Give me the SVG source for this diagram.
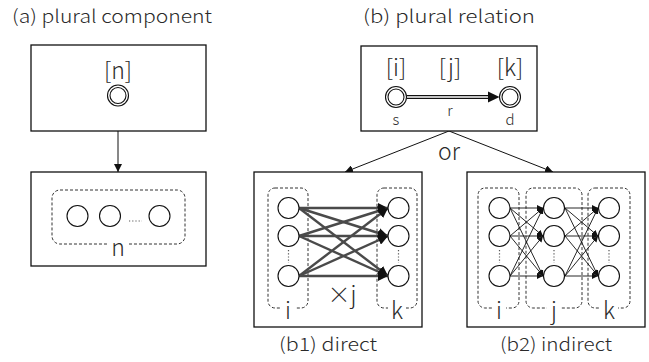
<svg xmlns="http://www.w3.org/2000/svg" width="649" height="362" viewBox="0 0 649 362">
<style>
text{font-family:"Noto Sans CJK JP","Noto Sans",sans-serif;font-weight:300;fill:#2a2a2a}
.title{font-size:18px}
.lbl{font-size:23px;text-anchor:middle}
.sm{font-size:15px;text-anchor:middle}
.box{fill:#fff;stroke:#111;stroke-width:1.3}
.dash{fill:none;stroke:#333;stroke-width:1;stroke-dasharray:3 2}
.c{fill:#fff;stroke:#111;stroke-width:1.1}
.thick{stroke:#4a4a4a;stroke-width:2.4;fill:none}
.thin{stroke:#111;stroke-width:0.9;fill:none}
.conn{stroke:#111;stroke-width:1;fill:none}
.dots{stroke:#555;stroke-width:1.2;stroke-dasharray:1.2 2;fill:none}
</style>
<defs>
<marker id="ah" viewBox="0 0 10 10" refX="10" refY="5" markerWidth="8" markerHeight="8" markerUnits="userSpaceOnUse" orient="auto"><path d="M0,0L10,5L0,10z" fill="#111"/></marker>
<marker id="ahb" viewBox="0 0 10 10" refX="10" refY="5" markerWidth="10" markerHeight="10" markerUnits="userSpaceOnUse" orient="auto"><path d="M0,0L10,5L0,10z" fill="#111"/></marker>
<marker id="ahs" viewBox="0 0 10 10" refX="10" refY="5" markerWidth="6" markerHeight="6" markerUnits="userSpaceOnUse" orient="auto"><path d="M0,0L10,5L0,10z" fill="#111"/></marker>
</defs>

<text class="title" x="12" y="23" textLength="200" lengthAdjust="spacingAndGlyphs">(a) plural component</text>
<text class="title" x="363" y="23" textLength="172" lengthAdjust="spacingAndGlyphs">(b) plural relation</text>

<g id="connectors">
<line class="conn" x1="118" y1="131" x2="118" y2="172" marker-end="url(#ah)"/>
<line class="conn" x1="449" y1="131" x2="345" y2="172" marker-end="url(#ah)"/>
<line class="conn" x1="449" y1="131" x2="553" y2="172" marker-end="url(#ah)"/>
<text class="lbl" x="449" y="160">or</text>
</g>

<g id="a-top">
<rect class="box" x="31" y="45" width="175" height="86"/>
<text class="lbl" x="118" y="79">[n]</text>
<circle class="c" cx="118" cy="95.5" r="10.5"/>
<circle class="c" cx="118" cy="95.5" r="8"/>
</g>

<g id="a-bottom">
<rect class="box" x="31" y="172" width="175" height="94"/>
<rect class="dash" x="52" y="190" width="133" height="54" rx="8"/>
<rect x="107" y="238" width="22" height="12" fill="#fff"/>
<text class="lbl" x="118" y="256">n</text>
<circle class="c" cx="77.5" cy="216" r="10.5"/>
<circle class="c" cx="110" cy="216" r="10.5"/>
<circle class="c" cx="159.5" cy="216" r="10.5"/>
<line class="dots" x1="129" y1="221" x2="142" y2="221"/>
</g>

<g id="b-top">
<rect class="box" x="361" y="46" width="176" height="85"/>
<text class="lbl" x="396" y="76">[i]</text>
<text class="lbl" x="450" y="76">[j]</text>
<text class="lbl" x="510" y="76">[k]</text>
<line x1="407" y1="97" x2="495" y2="97" stroke="#111" stroke-width="4"/>
<line x1="407" y1="97" x2="495" y2="97" stroke="#fff" stroke-width="1.6"/>
<path d="M488,91.5L499.5,97L488,102.5z" fill="#111"/>
<circle class="c" cx="396" cy="97" r="10.5"/>
<circle class="c" cx="396" cy="97" r="8"/>
<circle class="c" cx="510" cy="97" r="10.5"/>
<circle class="c" cx="510" cy="97" r="8"/>
<text class="sm" x="450" y="116">r</text>
<text class="sm" x="396" y="125">s</text>
<text class="sm" x="510" y="125">d</text>
</g>

<g id="b1">
<rect class="box" x="254" y="172" width="168" height="155"/>
<rect class="dash" x="268" y="188" width="40" height="120" rx="7"/>
<rect class="dash" x="377" y="188" width="40" height="120" rx="7"/>
<g class="thick">
<line x1="299" y1="208" x2="388" y2="208" marker-end="url(#ahb)"/>
<line x1="299" y1="208" x2="388" y2="236" marker-end="url(#ahb)"/>
<line x1="299" y1="208" x2="388" y2="276" marker-end="url(#ahb)"/>
<line x1="299" y1="236" x2="388" y2="208" marker-end="url(#ahb)"/>
<line x1="299" y1="236" x2="388" y2="236" marker-end="url(#ahb)"/>
<line x1="299" y1="236" x2="388" y2="276" marker-end="url(#ahb)"/>
<line x1="299" y1="276" x2="388" y2="208" marker-end="url(#ahb)"/>
<line x1="299" y1="276" x2="388" y2="236" marker-end="url(#ahb)"/>
<line x1="299" y1="276" x2="388" y2="276" marker-end="url(#ahb)"/>
</g>
<circle class="c" cx="288.5" cy="208" r="10.5"/>
<circle class="c" cx="288.5" cy="236" r="10.5"/>
<circle class="c" cx="288.5" cy="276" r="10.5"/>
<circle class="c" cx="398.5" cy="208" r="10.5"/>
<circle class="c" cx="398.5" cy="236" r="10.5"/>
<circle class="c" cx="398.5" cy="276" r="10.5"/>
<line class="dots" x1="288.5" y1="250" x2="288.5" y2="263"/>
<line class="dots" x1="398.5" y1="250" x2="398.5" y2="263"/>
<rect x="281" y="302" width="14" height="12" fill="#fff"/>
<rect x="388" y="302" width="18" height="12" fill="#fff"/>
<text class="lbl" x="288" y="319">i</text>
<text class="lbl" x="397" y="319">k</text>
<text class="lbl" x="342" y="303">×j</text>
<text class="title" x="328" y="351" text-anchor="middle" textLength="98" lengthAdjust="spacingAndGlyphs">(b1) direct</text>
</g>

<g id="b2">
<rect class="box" x="467" y="172" width="178" height="155"/>
<rect class="dash" x="478" y="188" width="41" height="120" rx="7"/>
<rect class="dash" x="526" y="188" width="56" height="120" rx="7"/>
<rect class="dash" x="588" y="188" width="42" height="120" rx="7"/>
<g class="thin">
<line x1="510" y1="208" x2="543" y2="208" marker-end="url(#ahs)"/>
<line x1="510" y1="208" x2="543" y2="236" marker-end="url(#ahs)"/>
<line x1="510" y1="208" x2="543" y2="276" marker-end="url(#ahs)"/>
<line x1="510" y1="236" x2="543" y2="208" marker-end="url(#ahs)"/>
<line x1="510" y1="236" x2="543" y2="236" marker-end="url(#ahs)"/>
<line x1="510" y1="236" x2="543" y2="276" marker-end="url(#ahs)"/>
<line x1="510" y1="276" x2="543" y2="208" marker-end="url(#ahs)"/>
<line x1="510" y1="276" x2="543" y2="236" marker-end="url(#ahs)"/>
<line x1="510" y1="276" x2="543" y2="276" marker-end="url(#ahs)"/>
<line x1="565" y1="208" x2="598" y2="208" marker-end="url(#ahs)"/>
<line x1="565" y1="208" x2="598" y2="236" marker-end="url(#ahs)"/>
<line x1="565" y1="208" x2="598" y2="276" marker-end="url(#ahs)"/>
<line x1="565" y1="236" x2="598" y2="208" marker-end="url(#ahs)"/>
<line x1="565" y1="236" x2="598" y2="236" marker-end="url(#ahs)"/>
<line x1="565" y1="236" x2="598" y2="276" marker-end="url(#ahs)"/>
<line x1="565" y1="276" x2="598" y2="208" marker-end="url(#ahs)"/>
<line x1="565" y1="276" x2="598" y2="236" marker-end="url(#ahs)"/>
<line x1="565" y1="276" x2="598" y2="276" marker-end="url(#ahs)"/>
</g>
<circle class="c" cx="499.5" cy="208" r="10.5"/>
<circle class="c" cx="499.5" cy="236" r="10.5"/>
<circle class="c" cx="499.5" cy="276" r="10.5"/>
<circle class="c" cx="554" cy="208" r="10.5"/>
<circle class="c" cx="554" cy="236" r="10.5"/>
<circle class="c" cx="554" cy="276" r="10.5"/>
<circle class="c" cx="609" cy="208" r="10.5"/>
<circle class="c" cx="609" cy="236" r="10.5"/>
<circle class="c" cx="609" cy="276" r="10.5"/>
<line class="dots" x1="499.5" y1="250" x2="499.5" y2="263"/>
<line class="dots" x1="554" y1="250" x2="554" y2="263"/>
<line class="dots" x1="609" y1="250" x2="609" y2="263"/>
<rect x="492" y="302" width="14" height="12" fill="#fff"/>
<rect x="547" y="302" width="14" height="12" fill="#fff"/>
<rect x="600" y="302" width="18" height="12" fill="#fff"/>
<text class="lbl" x="499" y="319">i</text>
<text class="lbl" x="554" y="319">j</text>
<text class="lbl" x="609" y="319">k</text>
<text class="title" x="556" y="351" text-anchor="middle" textLength="112" lengthAdjust="spacingAndGlyphs">(b2) indirect</text>
</g>
</svg>
